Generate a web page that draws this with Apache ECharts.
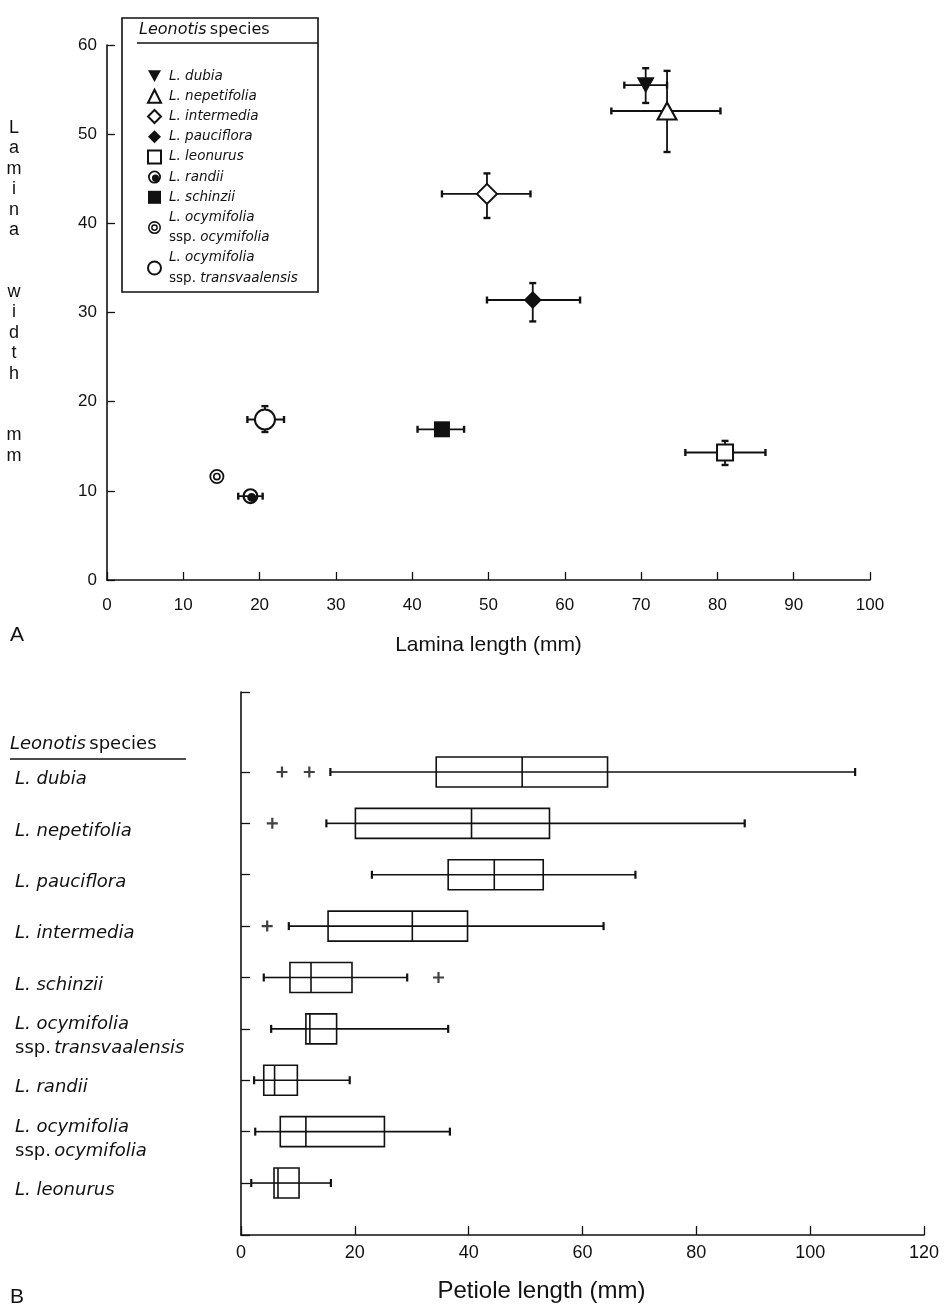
<!DOCTYPE html>
<html><head><meta charset="utf-8">
<script src="https://cdn.jsdelivr.net/npm/echarts@6/dist/echarts.min.js"></script>
<style>html,body{margin:0;padding:0;background:#fff}#c{width:948px;height:1310px}</style>
</head><body><div id="c"></div>
<script>
// ---------- Panel A data (Lamina length vs width, means with ranges) ----------
const species = ['L. dubia','L. nepetifolia','L. intermedia','L. pauciflora','L. leonurus','L. randii','L. schinzii','L. ocymifolia ssp. ocymifolia','L. ocymifolia ssp. transvaalensis'];
const laminaLength = [70.6, 73.4, 49.8, 55.8, 81.0, 18.8, 43.9, 14.4, 20.7];
const lengthLow    = [67.8, 66.1, 43.9, 49.8, 75.8, 17.2, 40.7, null, 18.4];
const lengthHigh   = [73.4, 80.4, 55.5, 62.0, 86.3, 20.4, 46.8, null, 23.2];
const laminaWidth  = [55.5, 52.6, 43.3, 31.4, 14.3, 9.4, 16.9, 11.6, 18.0];
const widthLow     = [53.5, 48.0, 40.6, 29.0, 12.9, null, null, null, 16.6];
const widthHigh    = [57.4, 57.1, 45.6, 33.3, 15.6, null, null, null, 19.5];
const lengthTicks = [0,10,20,30,40,50,60,70,80,90,100];
const widthTicks = [0,10,20,30,40,50,60];

// ---------- Panel B data (Petiole length box plots) ----------
const boxSpecies = ['L. dubia','L. nepetifolia','L. pauciflora','L. intermedia','L. schinzii','L. ocymifolia ssp. transvaalensis','L. randii','L. ocymifolia ssp. ocymifolia','L. leonurus'];
const whiskerLow  = [15.7, 15.0, 23.0, 8.4, 4.0, 5.3, 2.3, 2.5, 1.8];
const quartile1   = [34.3, 20.1, 36.4, 15.3, 8.6, 11.4, 4.0, 6.9, 5.8];
const medians     = [49.4, 40.5, 44.5, 30.1, 12.3, 12.1, 5.9, 11.4, 6.5];
const quartile3   = [64.4, 54.2, 53.1, 39.8, 19.5, 16.8, 9.9, 25.2, 10.2];
const whiskerHigh = [107.9, 88.5, 69.3, 63.7, 29.2, 36.4, 19.1, 36.7, 15.8];
const outlierValues  = [7.2, 12.0, 5.5, 4.6, 34.7];
const outlierSpecies = ['L. dubia','L. dubia','L. nepetifolia','L. intermedia','L. schinzii'];
const petioleTicks = [0,20,40,60,80,100,120];

// ---------- styles ----------
const INK = '#111';
const FONT = 'Liberation Sans';
const LABFONT = 'DejaVu Sans';
const ring = (cx,cy,r,cw)=>`M${cx-r},${cy} A${r},${r} 0 1,${cw?1:0} ${cx+r},${cy} A${r},${r} 0 1,${cw?1:0} ${cx-r},${cy} Z `;
const markerStyle = {
  'L. dubia': {symbol:'path://M0,0 L20,0 L10,18 Z', size:[18,16], fill:INK, bw:0},
  'L. nepetifolia': {symbol:'triangle', size:[19,17], fill:'#fff', bw:2},
  'L. intermedia': {symbol:'diamond', size:[20,20], fill:'#fff', bw:2},
  'L. pauciflora': {symbol:'diamond', size:[18,18], fill:INK, bw:0},
  'L. leonurus': {symbol:'rect', size:[16,16], fill:'#fff', bw:2},
  'L. randii': {symbol:'path://'+ring(10,10,10,true)+ring(10,10,7.3,false)+ring(11.5,11.5,5.5,true), size:[16,16], fill:INK, bw:0},
  'L. schinzii': {symbol:'rect', size:[16,16], fill:INK, bw:0},
  'L. ocymifolia ssp. ocymifolia': {symbol:'path://'+ring(10,10,10,true)+ring(10,10,7.6,false)+ring(10,10,5.2,true)+ring(10,10,3,false), size:[15,15], fill:INK, bw:0},
  'L. ocymifolia ssp. transvaalensis': {symbol:'circle', size:[20,20], fill:'#fff', bw:2}
};

function richName(name){
  const m = name.match(/^(L\. \S+) ssp\. (\S+)$/);
  if (m) return '{i|' + m[1] + '}\n{n|ssp.} {i|' + m[2] + '}';
  return '{i|' + name + '}';
}

// ---------- build series ----------
const series = [];
const errData = species.map((s,i)=>[
  laminaLength[i], laminaWidth[i],
  lengthLow[i]==null?laminaLength[i]:lengthLow[i],
  lengthHigh[i]==null?laminaLength[i]:lengthHigh[i],
  widthLow[i]==null?laminaWidth[i]:widthLow[i],
  widthHigh[i]==null?laminaWidth[i]:widthHigh[i],
  lengthLow[i]==null?0:1, widthLow[i]==null?0:1
]);
series.push({
  type:'custom', name:'ranges', xAxisIndex:0, yAxisIndex:0, z:3, silent:true,
  data: errData, encode:{x:[0,2,3], y:[1,4,5]},
  renderItem(params, api){
    const x=api.value(0), y=api.value(1);
    const st = {stroke:INK, lineWidth:1.8, fill:null};
    const cs = {stroke:INK, lineWidth:2.4};
    const ch = [];
    const cap = 3.5;
    if (api.value(6)) {
      const a=api.coord([api.value(2),y]), b=api.coord([api.value(3),y]);
      ch.push({type:'line', shape:{x1:a[0],y1:a[1],x2:b[0],y2:b[1]}, style:st});
      ch.push({type:'line', shape:{x1:a[0],y1:a[1]-cap,x2:a[0],y2:a[1]+cap}, style:cs});
      ch.push({type:'line', shape:{x1:b[0],y1:b[1]-cap,x2:b[0],y2:b[1]+cap}, style:cs});
    }
    if (api.value(7)) {
      const a=api.coord([x,api.value(4)]), b=api.coord([x,api.value(5)]);
      ch.push({type:'line', shape:{x1:a[0],y1:a[1],x2:b[0],y2:b[1]}, style:st});
      ch.push({type:'line', shape:{x1:a[0]-cap,y1:a[1],x2:a[0]+cap,y2:a[1]}, style:cs});
      ch.push({type:'line', shape:{x1:b[0]-cap,y1:b[1],x2:b[0]+cap,y2:b[1]}, style:cs});
    }
    return {type:'group', children: ch};
  }
});
species.forEach((s,i)=>{
  const m = markerStyle[s];
  series.push({
    type:'scatter', name:s, xAxisIndex:0, yAxisIndex:0, z:5,
    data:[[laminaLength[i], laminaWidth[i]]],
    symbol:m.symbol, symbolSize:m.size,
    itemStyle:{color:m.fill, borderColor:INK, borderWidth:m.bw, opacity:1},
    emphasis:{disabled:true}
  });
});

const boxData = boxSpecies.map((s,i)=>[i+1, whiskerLow[i], quartile1[i], medians[i], quartile3[i], whiskerHigh[i]]);
series.push({
  type:'custom', name:'boxes', xAxisIndex:2, yAxisIndex:2, z:3, silent:true,
  data: boxData, encode:{x:[1,2,3,4,5], y:0},
  renderItem(params, api){
    const r = api.value(0);
    const P = v => api.coord([v, r]);
    const lo=P(api.value(1)), q1=P(api.value(2)), md=P(api.value(3)), q3=P(api.value(4)), hi=P(api.value(5));
    const h = 15, cap = 4;
    const yc = lo[1];
    const st = {stroke:INK, lineWidth:1.6, fill:null};
    return {type:'group', children:[
      {type:'line', shape:{x1:lo[0],y1:yc,x2:q1[0],y2:yc}, style:st},
      {type:'line', shape:{x1:q3[0],y1:yc,x2:hi[0],y2:yc}, style:st},
      {type:'line', shape:{x1:lo[0],y1:yc-cap,x2:lo[0],y2:yc+cap}, style:{stroke:INK,lineWidth:2.2}},
      {type:'line', shape:{x1:hi[0],y1:yc-cap,x2:hi[0],y2:yc+cap}, style:{stroke:INK,lineWidth:2.2}},
      {type:'rect', shape:{x:q1[0], y:yc-h, width:q3[0]-q1[0], height:2*h}, style:{stroke:INK, lineWidth:1.6, fill:'#fff'}},
      {type:'line', shape:{x1:q1[0],y1:yc,x2:q3[0],y2:yc}, style:st},
      {type:'line', shape:{x1:md[0],y1:yc-h,x2:md[0],y2:yc+h}, style:st}
    ]};
  }
});
series.push({
  type:'scatter', name:'outliers', xAxisIndex:2, yAxisIndex:2, z:4, silent:true,
  data: outlierValues.map((v,i)=>[v, boxSpecies.indexOf(outlierSpecies[i])+1]),
  symbol:'path://M4,0 H6 V4 H10 V6 H6 V10 H4 V6 H0 V4 H4 Z',
  symbolSize:11, itemStyle:{color:INK}
});

const axisLineStyle = {show:true, lineStyle:{color:INK, width:1.6}};
const option = {
  animation:false,
  backgroundColor:'#fff',
  grid:[
    {left:107, right:78, top:45, bottom:730},
    {left:241, right:24, top:692, bottom:75},
    {left:241, right:24, top:720.6, bottom:75.6}
  ],
  xAxis:[
    {gridIndex:0, type:'value', min:0, max:100, interval:10,
     axisLine:axisLineStyle, axisTick:{show:true, inside:true, length:8, lineStyle:{color:INK, width:1.3}},
     splitLine:{show:false},
     axisLabel:{color:INK, fontSize:17, fontFamily:FONT, margin:17, customValues: lengthTicks},
     name:'Lamina length (mm)', nameLocation:'middle', nameGap:55,
     nameTextStyle:{color:INK, fontSize:21, fontFamily:FONT}},
    {gridIndex:1, type:'value', min:0, max:120, interval:20,
     axisLine:axisLineStyle, axisTick:{show:true, inside:true, length:9, lineStyle:{color:INK, width:1.3}},
     splitLine:{show:false},
     axisLabel:{color:INK, fontSize:18, fontFamily:FONT, margin:9, customValues: petioleTicks},
     name:'Petiole length (mm)', nameLocation:'middle', nameGap:44,
     nameTextStyle:{color:INK, fontSize:24, fontFamily:FONT, padding:[0,82,0,0]}},
    {gridIndex:2, type:'value', min:0, max:120, show:false}
  ],
  yAxis:[
    {gridIndex:0, type:'value', min:0, max:60, interval:10,
     axisLine:axisLineStyle, axisTick:{show:true, inside:true, length:8, lineStyle:{color:INK, width:1.3}},
     splitLine:{show:false},
     axisLabel:{color:INK, fontSize:17, fontFamily:FONT, margin:10, customValues: widthTicks},
     name:'L\na\nm\ni\nn\na\n\n\nw\ni\nd\nt\nh\n\n\nm\nm\n\n', nameLocation:'middle', nameGap:93, nameRotate:0,
     nameTextStyle:{color:INK, fontSize:18, fontFamily:FONT, lineHeight:20.5, align:'center', verticalAlign:'middle'}},
    {gridIndex:1, type:'value', min:0, max:1, interval:1,
     axisLine:axisLineStyle, axisTick:{show:true, inside:true, length:9, lineStyle:{color:INK, width:1.3}},
     splitLine:{show:false}, axisLabel:{show:false}},
    {gridIndex:2, type:'category', inverse:true, boundaryGap:false,
     data:['', ...boxSpecies, ''],
     axisLine:{show:false},
     axisTick:{show:true, inside:true, length:9, interval:(i)=> i>0 && i<=boxSpecies.length, lineStyle:{color:INK, width:1.3}},
     splitLine:{show:false},
     axisLabel:{show:true, interval:0, align:'left', margin:226, color:INK, padding:[15,0,0,0],
       formatter:(v)=> v ? richName(v) : '',
       rich:{
         i:{fontStyle:'italic', fontSize:18, fontFamily:LABFONT, color:INK, lineHeight:24},
         n:{fontStyle:'normal', fontSize:18, fontFamily:LABFONT, color:INK, lineHeight:24}
       }}}
  ],
  legend:{
    show:true, orient:'vertical', left:142, top:61, z:10,
    itemWidth:13, itemHeight:13, itemGap:0, selectedMode:false,
    data: species,
    formatter:(n)=> richName(n),
    textStyle:{color:INK, fontFamily:LABFONT, fontSize:13.5, lineHeight:20.2, padding:[0,0,0,3],
      rich:{
        i:{fontStyle:'italic', fontSize:13.5, fontFamily:LABFONT, color:INK, lineHeight:20.2},
        n:{fontStyle:'normal', fontSize:13.5, fontFamily:LABFONT, color:INK, lineHeight:20.2}
      }}
  },
  graphic:[
    {type:'rect', z:8, shape:{x:122, y:18, width:196, height:274}, style:{fill:'#fff', stroke:INK, lineWidth:1.6}},
    {type:'text', z:9, left:139, top:22, style:{text:'{i|Leonotis} {n|species}', rich:{
      i:{fontStyle:'italic', fontSize:16, fontFamily:LABFONT, fill:INK},
      n:{fontSize:16, fontFamily:LABFONT, fill:INK}}}},
    {type:'line', z:9, shape:{x1:137, y1:43, x2:318, y2:43}, style:{stroke:INK, lineWidth:1.6}},
    {type:'text', left:10, top:735, style:{text:'{i|Leonotis} {n|species}', rich:{
      i:{fontStyle:'italic', fontSize:18, fontFamily:LABFONT, fill:INK},
      n:{fontSize:18, fontFamily:LABFONT, fill:INK}}}},
    {type:'line', shape:{x1:10, y1:759, x2:186, y2:759}, style:{stroke:INK, lineWidth:1.6}},
    {type:'text', left:10, top:625, style:{text:'A', fontSize:21, fontFamily:FONT, fill:INK}},
    {type:'text', left:10, top:1287, style:{text:'B', fontSize:21, fontFamily:FONT, fill:INK}}
  ],
  series: series
};
const chart = echarts.init(document.getElementById('c'), null, {renderer:'canvas'});
chart.setOption(option);
</script></body></html>
